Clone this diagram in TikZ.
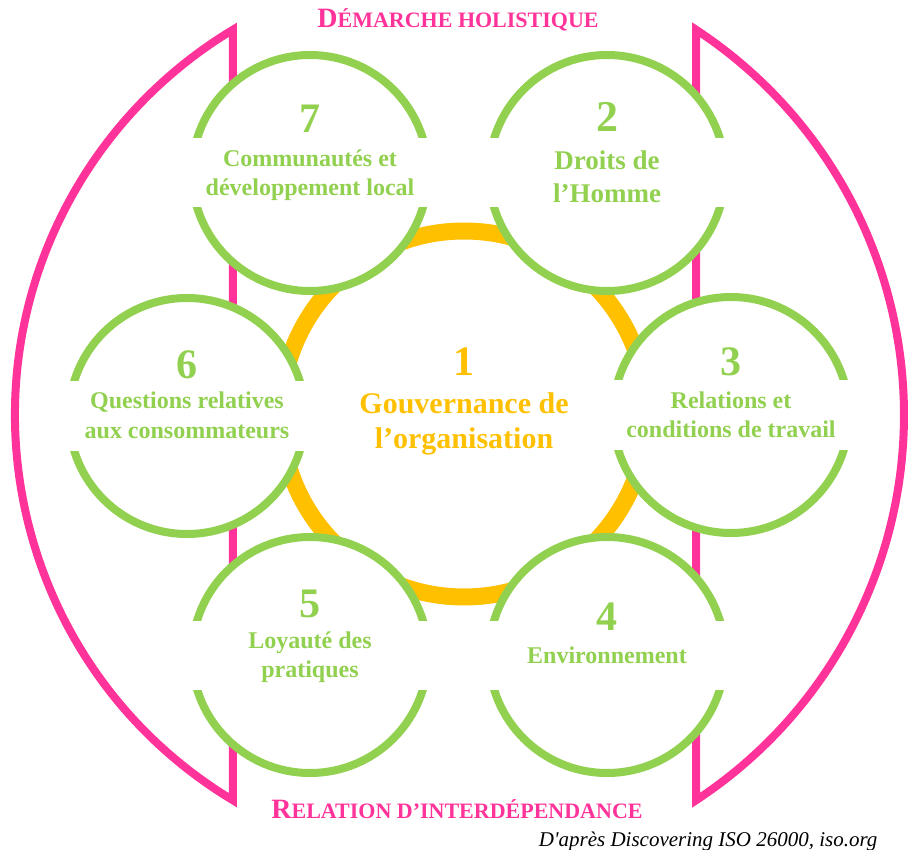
\documentclass[tikz,border=0pt]{standalone}
\usepackage{fontspec}
\setmainfont{Liberation Serif}
\newfontfamily\creditfont{Liberation Serif}[Ligatures=TeXOff]
\usetikzlibrary{positioning,calc}
\definecolor{themegreen}{RGB}{146,208,80}
\definecolor{govgold}{RGB}{255,192,0}
\definecolor{framepink}{RGB}{255,51,153}
\newcommand{\fakesc}[2]{{\fontsize{28}{28}\selectfont #1}{\fontsize{22}{22}\selectfont #2}}
\tikzset{
  pinkframe/.style={draw=framepink,line width=8pt},
  govring/.style={circle,draw=govgold,line width=17pt,minimum size=366pt,inner sep=0pt},
  themecircle/.style={circle,draw=themegreen,line width=8pt,fill=white,minimum size=236pt,inner sep=0pt},
  themeband/.style={fill=white,minimum width=252pt,minimum height=69pt,inner sep=0pt},
  themetext/.style={anchor=base,align=center,text=themegreen,font=\bfseries\fontsize{24}{29}\selectfont},
  themenum/.style={anchor=base,text=themegreen,font=\bfseries\fontsize{42}{42}\selectfont},
  caption/.style={anchor=base,text=framepink,font=\bfseries},
}

\begin{document}
\begin{tikzpicture}[x=1pt,y=-1pt]
\useasboundingbox (0,0) rectangle (908,850);
\coordinate (lefthub) at (464.5,415);
\coordinate (righthub) at (443.1,415);
% holistic frames
\draw[pinkframe] (lefthub) ++(121:449.5) arc[start angle=121,end angle=239,radius=449.5] -- cycle;
\draw[pinkframe] (righthub) ++(56.7:460.9) arc[start angle=56.7,end angle=-56.7,radius=460.9] -- cycle;
% governance ring
\node[govring] (c1) at (464,414) {};
% seven themes
\node[themecircle] (c7) at (310,173) {};
\node[themeband] (b7) at (c7) {};
\node[themecircle] (c2) at (607,173) {};
\node[themeband] (b2) at (c2) {};
\node[themecircle] (c6) at (187,416) {};
\node[themeband] (b6) at (c6) {};
\node[themecircle] (c3) at (731,415) {};
\node[themeband] (b3) at (c3) {};
\node[themecircle] (c5) at (310,655) {};
\node[themeband] (b5) at (c5) {};
\node[themecircle] (c4) at (607,655) {};
\node[themeband] (b4) at (c4) {};
% labels (base = last line)
\node[themenum,text=govgold] (n1) at (464,375) {1};
\node[themetext,text=govgold,font=\bfseries\fontsize{30}{35}\selectfont] (t1) at (464,448) {Gouvernance de\\l’organisation};
\node[themenum,font=\bfseries\fontsize{44}{44}\selectfont] (n2) at (607,132) {2};
\node[themetext,font=\bfseries\fontsize{27}{33}\selectfont] (t2) at (607,203) {Droits de\\l’Homme};
\node[themenum] (n3) at (731,375) {3};
\node[themetext] (t3) at (731,437) {Relations et\\conditions de travail};
\node[themenum] (n4) at (607,630) {4};
\node[themetext] (t4) at (607,663) {Environnement};
\node[themenum] (n5) at (310,617) {5};
\node[themetext] (t5) at (310,677) {Loyauté des\\pratiques};
\node[themenum] (n6) at (187,378) {6};
\node[themetext] (t6) at (187,438) {Questions relatives\\aux consommateurs};
\node[themenum] (n7) at (310,133) {7};
\node[themetext] (t7) at (310,196) {Communautés et\\développement local};
% captions
\node[caption] (holist) at (458,28) {\fakesc{D}{ÉMARCHE HOLISTIQUE}};
\node[caption] (interdep) at (457,818) {\fakesc{R}{ELATION D’INTERDÉPENDANCE}};
\node[anchor=base east,font=\creditfont\itshape\fontsize{21}{21}\selectfont] (credit) at (881,846) {D'après Discovering ISO 26000, iso.org};
\end{tikzpicture}
\end{document}
